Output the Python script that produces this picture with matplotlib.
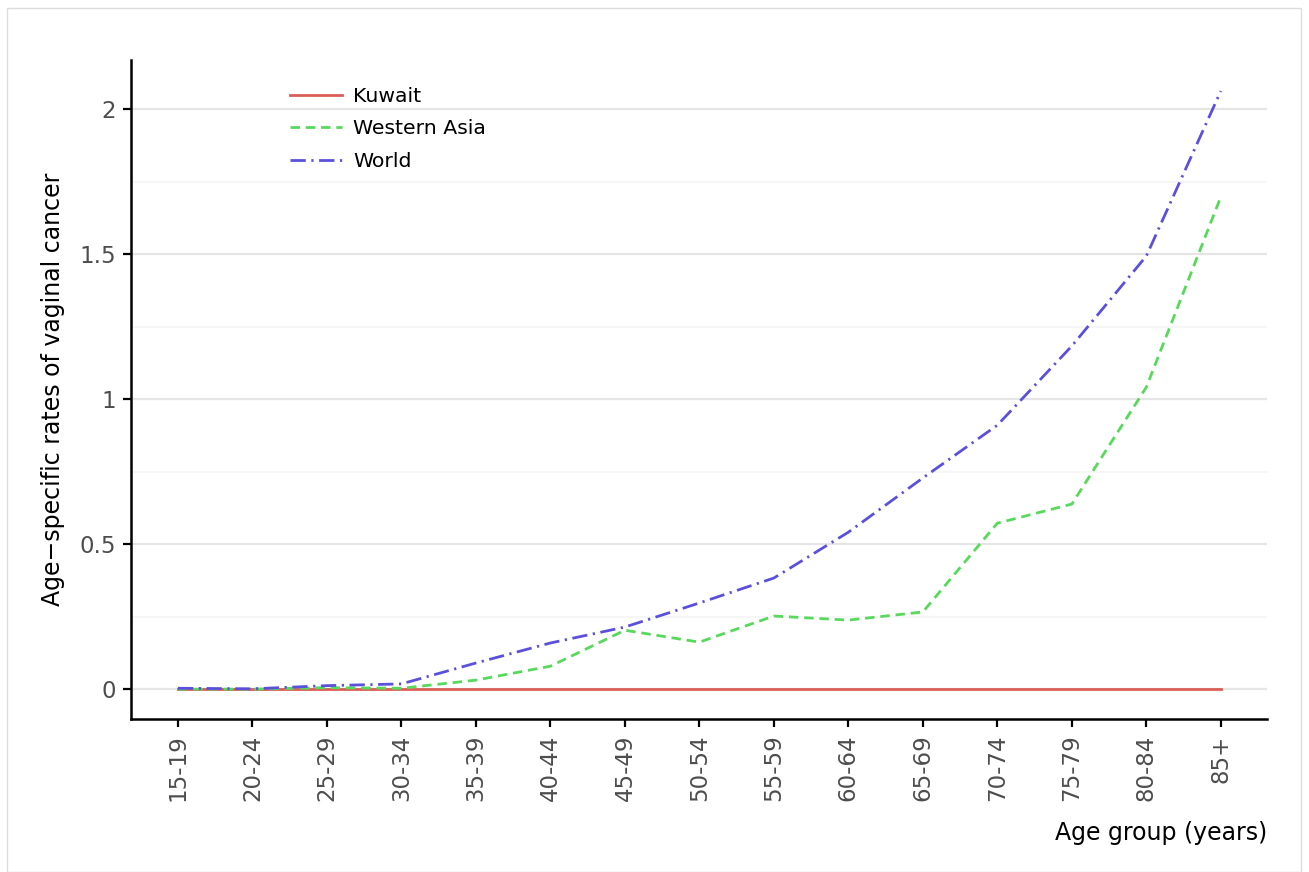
import matplotlib
matplotlib.use("Agg")
import matplotlib.pyplot as plt
from matplotlib.patches import Rectangle
from matplotlib.ticker import MultipleLocator

age_groups = ["15-19", "20-24", "25-29", "30-34", "35-39", "40-44", "45-49",
              "50-54", "55-59", "60-64", "65-69", "70-74", "75-79", "80-84", "85+"]
kuwait = [0, 0, 0, 0, 0, 0, 0, 0, 0, 0, 0, 0, 0, 0, 0]
western_asia = [0.0, 0.0, 0.005, 0.003, 0.031, 0.079, 0.203, 0.162, 0.252,
                0.238, 0.266, 0.572, 0.638, 1.041, 1.697]
world = [0.003, 0.001, 0.012, 0.018, 0.09, 0.159, 0.214, 0.297, 0.383,
         0.541, 0.728, 0.91, 1.183, 1.493, 2.062]

W, H = 1309, 872
fig = plt.figure(figsize=(W / 100, H / 100), dpi=100)
fig.patches.append(Rectangle((7 / W, 0), (1301 - 7) / W, 1 - 8 / H,
                             transform=fig.transFigure, fill=False,
                             edgecolor="#dcdcdc", linewidth=1))

ax = fig.add_axes([131 / W, 1 - 719 / H, (1267 - 131) / W, (719 - 60) / H])
x = list(range(len(age_groups)))

lw = 2.0
ax.plot(x, kuwait, color="#db5f57", lw=lw, label="Kuwait", zorder=3)
ax.plot(x, western_asia, color="#57d95b", lw=lw, dashes=(3.4, 2.1), label="Western Asia", zorder=3)
ax.plot(x, world, color="#5b50db", lw=lw, dashes=(5.5, 2, 0.8, 2), label="World", zorder=3)

ax.set_xlim(-0.63, 14.62)
ax.set_ylim(-0.103, 2.169)
ax.set_xticks(x)
ax.set_xticklabels(age_groups, rotation=90)
ax.yaxis.set_minor_locator(MultipleLocator(0.25))
ax.set_yticks([0, 0.5, 1, 1.5, 2])
ax.set_yticklabels(["0", "0.5", "1", "1.5", "2"])
ax.grid(axis="y", which="major", color="#e5e5e5", lw=1.6, zorder=0)
ax.grid(axis="y", which="minor", color="#f6f6f6", lw=1.6, zorder=0)
ax.tick_params(axis="y", which="minor", length=0)
ax.tick_params(axis="both", which="major", direction="out", length=6, width=1.6,
               color="black", labelcolor="#4d4d4d", labelsize=16.5, pad=5)

for s in ["top", "right"]:
    ax.spines[s].set_visible(False)
for s in ["left", "bottom"]:
    ax.spines[s].set_linewidth(1.8)
    ax.spines[s].set_color("black")

ax.set_ylabel("Age\u2212specific rates of vaginal cancer", fontsize=17, color="black", labelpad=10)
ax.set_xlabel("Age group (years)", fontsize=17, color="black")
ax.xaxis.set_label_coords(1.0, -0.155)
ax.xaxis.label.set_horizontalalignment("right")

leg = ax.legend(loc="upper left", bbox_to_anchor=(0.1235, 0.987), frameon=False,
                fontsize=14.7, handlelength=2.55, labelspacing=0.66, handletextpad=0.55)

fig.savefig("out.png", dpi=100, facecolor="white")
